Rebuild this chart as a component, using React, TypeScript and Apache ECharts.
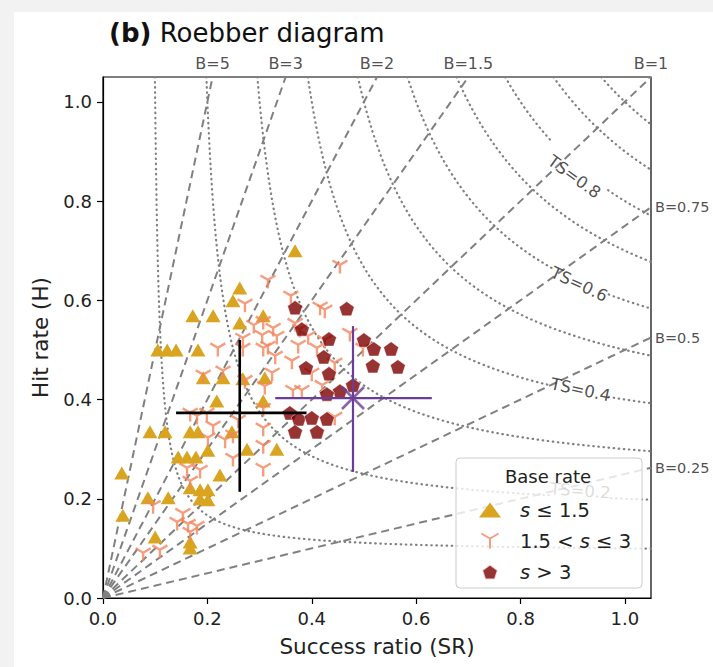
import React, { useEffect, useRef } from "react";
import * as echarts from "echarts";

// ---------- data ----------
const xTicks = [0, 0.2, 0.4, 0.6, 0.8, 1.0];
const yTicks = [0, 0.2, 0.4, 0.6, 0.8, 1.0];
const axisMax = 1.05;

const biasLevels = [0.25, 0.5, 0.75, 1, 1.5, 2, 3, 5];
const biasLabels = ["B=0.25", "B=0.5", "B=0.75", "B=1", "B=1.5", "B=2", "B=3", "B=5"];

const tsLevels = [0.1, 0.2, 0.3, 0.4, 0.5, 0.6, 0.7, 0.8, 0.9, 1.0, 1.1];
const tsLabelled = [0.2, 0.4, 0.6, 0.8];
const tsLabelText = ["TS=0.2", "TS=0.4", "TS=0.6", "TS=0.8"];
const tsLabelRotate = [-4, -12, -25, -36];
const tsLabelShift = [-6, -2, 2, 10];

const seriesNames = ["s ≤ 1.5", "1.5 < s ≤ 3", "s > 3"];

// s <= 1.5 (triangles)
const lowSR = [0.368, 0.262, 0.249, 0.172, 0.211, 0.307, 0.262, 0.105, 0.123, 0.140, 0.182, 0.192, 0.230, 0.268, 0.310, 0.218, 0.307, 0.090, 0.119, 0.167, 0.182, 0.247, 0.201, 0.276, 0.333, 0.144, 0.161, 0.178, 0.224, 0.036, 0.086, 0.125, 0.167, 0.186, 0.201, 0.186, 0.038, 0.100, 0.167, 0.167, 0.201];
const lowH = [0.700, 0.625, 0.599, 0.569, 0.569, 0.569, 0.554, 0.500, 0.500, 0.500, 0.500, 0.444, 0.444, 0.442, 0.444, 0.397, 0.397, 0.335, 0.335, 0.335, 0.335, 0.335, 0.298, 0.300, 0.300, 0.284, 0.284, 0.284, 0.248, 0.252, 0.202, 0.202, 0.222, 0.218, 0.218, 0.200, 0.167, 0.123, 0.113, 0.101, 0.198];

// 1.5 < s <= 3 (tri-down)
const midSR = [0.454, 0.316, 0.360, 0.416, 0.425, 0.272, 0.289, 0.307, 0.326, 0.333, 0.305, 0.368, 0.377, 0.393, 0.473, 0.498, 0.268, 0.268, 0.220, 0.307, 0.316, 0.410, 0.362, 0.444, 0.330, 0.324, 0.400, 0.272, 0.310, 0.420, 0.364, 0.381, 0.192, 0.230, 0.307, 0.167, 0.180, 0.199, 0.211, 0.259, 0.307, 0.444, 0.201, 0.249, 0.234, 0.307, 0.249, 0.307, 0.161, 0.186, 0.167, 0.096, 0.153, 0.142, 0.163, 0.180, 0.167, 0.077, 0.109, 0.425, 0.374];
const midH = [0.667, 0.637, 0.605, 0.583, 0.577, 0.589, 0.546, 0.554, 0.540, 0.524, 0.526, 0.550, 0.538, 0.524, 0.530, 0.500, 0.520, 0.500, 0.500, 0.500, 0.504, 0.500, 0.474, 0.470, 0.484, 0.450, 0.450, 0.435, 0.423, 0.425, 0.415, 0.415, 0.446, 0.454, 0.379, 0.369, 0.363, 0.369, 0.343, 0.355, 0.339, 0.361, 0.319, 0.325, 0.315, 0.304, 0.278, 0.258, 0.258, 0.254, 0.232, 0.183, 0.167, 0.149, 0.145, 0.141, 0.129, 0.087, 0.093, 0.516, 0.506];

// s > 3 (pentagons)
const highSR = [0.368, 0.467, 0.381, 0.433, 0.500, 0.519, 0.552, 0.423, 0.389, 0.433, 0.517, 0.565, 0.479, 0.454, 0.429, 0.358, 0.375, 0.400, 0.429, 0.368, 0.410];
const highH = [0.585, 0.583, 0.542, 0.522, 0.520, 0.502, 0.502, 0.486, 0.464, 0.452, 0.468, 0.466, 0.429, 0.417, 0.411, 0.373, 0.361, 0.363, 0.361, 0.335, 0.335];

// mean +- spread crosses
const blackCenter = [0.262, 0.373];
const blackSRRange = [0.14, 0.39];
const blackHRange = [0.214, 0.52];
const purpleCenter = [0.479, 0.403];
const purpleSRRange = [0.33, 0.63];
const purpleHRange = [0.254, 0.548];

// ---------- styles ----------
const FONT = "DejaVu Sans";
const GRAY = "#808080";
const C_LOW = "#d9a521";
const C_MID = "#f3845c";
const C_HIGH = "#7d0000";
const C_PURPLE = "#6a3d9a";

const PENTAGON = "path://M0,-10 L9.51,-3.09 L5.88,8.09 L-5.88,8.09 L-9.51,-3.09 Z";
const TRIDOWN = "path://M0,0 L0,10 M0,0 L-8.66,-5 M0,0 L8.66,-5";
const XMARK = "path://M-10,-10 L10,10 M-10,10 L10,-10";

function tsAt(ts: number, sr: number) {
  return 1 / (1 / ts + 1 - 1 / sr);
}

function buildOption() {
  const series: any[] = [];

  // TS contours (dotted)
  tsLevels.forEach((ts) => {
    const srMin = 1 / (1 / ts + 1 - 1 / axisMax);
    const pts: number[][] = [];
    const N = 220;
    for (let i = 0; i <= N; i++) {
      const sr = srMin * Math.pow(axisMax / srMin, i / N);
      pts.push([sr, Math.min(axisMax, tsAt(ts, sr))]);
    }
    const labelled = tsLabelled.some((l) => Math.abs(l - ts) < 1e-9);
    const segs = labelled
      ? [pts.filter((p) => p[0] < 0.862), pts.filter((p) => p[0] > 0.967)]
      : [pts];
    segs.forEach((seg) => {
      series.push({
        type: "line",
        data: seg,
        symbol: "none",
        silent: true,
        z: 1,
        lineStyle: { color: GRAY, width: 2.2, type: [0.5, 4.6], cap: "round" },
      });
    });
  });

  // Bias lines (dashed)
  biasLevels.forEach((b) => {
    const end = b >= 1 ? [axisMax / b, axisMax] : [axisMax, axisMax * b];
    series.push({
      type: "line",
      data: [[0, 0], end],
      symbol: "none",
      silent: true,
      z: 1,
      lineStyle: { color: GRAY, width: 2, type: [8, 5] },
    });
  });

  // Bias labels
  series.push({
    type: "scatter",
    symbolSize: 0,
    silent: true,
    clip: false,
    z: 3,
    data: biasLevels.map((b, i) => ({
      value: b >= 1 ? [axisMax / b, axisMax] : [axisMax, axisMax * b],
      label: {
        show: true,
        position: b >= 1 ? "top" : "right",
        distance: b >= 1 ? 6 : 4,
        formatter: biasLabels[i],
        fontSize: b >= 1 ? 16 : 14.5,
        color: "#222",
        fontFamily: FONT,
      },
    })),
  });

  // TS labels
  series.push({
    type: "scatter",
    symbolSize: 0,
    silent: true,
    clip: false,
    z: 3,
    data: tsLabelled.map((ts, i) => ({
      value: [0.914, tsAt(ts, 0.914)],
      label: {
        show: true,
        position: "inside",
        offset: [0, tsLabelShift[i]],
        formatter: tsLabelText[i],
        rotate: tsLabelRotate[i],
        fontSize: 16.5,
        color: "#222",
        fontFamily: FONT,
      },
    })),
  });

  // data series
  series.push({
    name: seriesNames[0],
    type: "scatter",
    symbol: "triangle",
    symbolSize: [15, 13],
    z: 4,
    itemStyle: { color: C_LOW, opacity: 1 },
    data: lowSR.map((v, i) => [v, lowH[i]]),
  });
  series.push({
    name: seriesNames[1],
    type: "scatter",
    symbol: TRIDOWN,
    symbolKeepAspect: true,
    symbolSize: 15,
    z: 5,
    itemStyle: { color: "rgba(0,0,0,0)", borderColor: C_MID, borderWidth: 2.4 },
    data: midSR.map((v, i) => [v, midH[i]]),
  });
  series.push({
    name: seriesNames[2],
    type: "scatter",
    symbol: PENTAGON,
    symbolKeepAspect: true,
    symbolSize: 15,
    z: 6,
    itemStyle: { color: C_HIGH, borderColor: "#ffffff", borderWidth: 0.6 },
    data: highSR.map((v, i) => [v, highH[i]]),
  });

  // crosses
  const cross = (c: number[], sr: number[], h: number[], color: string, w: number) => {
    series.push({
      type: "line",
      data: [[sr[0], c[1]], [sr[1], c[1]]],
      symbol: "none",
      silent: true,
      z: 7,
      lineStyle: { color, width: w },
    });
    series.push({
      type: "line",
      data: [[c[0], h[0]], [c[0], h[1]]],
      symbol: "none",
      silent: true,
      z: 7,
      lineStyle: { color, width: w },
    });
  };
  cross(blackCenter, blackSRRange, blackHRange, "#000000", 2.6);
  cross(purpleCenter, purpleSRRange, purpleHRange, C_PURPLE, 2.2);
  series.push({
    type: "scatter",
    symbol: XMARK,
    symbolSize: 22,
    silent: true,
    z: 8,
    itemStyle: { color: "rgba(0,0,0,0)", borderColor: C_PURPLE, borderWidth: 2.6 },
    data: [purpleCenter],
  });

  const axisCommon = {
    type: "value",
    min: 0,
    max: axisMax,
    splitLine: { show: false },
    axisLine: { show: true, onZero: false, lineStyle: { color: "#000", width: 1.2 } },
    axisTick: { show: true, inside: false, length: 6, lineStyle: { color: "#000", width: 1.2 } },
    nameLocation: "middle",
    nameTextStyle: { fontSize: 21.5, color: "#222", fontFamily: FONT },
  };

  return {
    animation: false,
    textStyle: { fontFamily: FONT },
    title: {
      text: "{b|(b)} Roebber diagram",
      left: 104,
      top: 15,
      textStyle: {
        fontSize: 26,
        fontWeight: "normal",
        color: "#111",
        fontFamily: FONT,
        rich: { b: { fontSize: 26, fontWeight: "bold", color: "#111", fontFamily: FONT } },
      },
    },
    grid: {
      left: 103,
      top: 77,
      right: 62,
      bottom: 69,
      show: true,
      borderColor: "#000",
      borderWidth: 1.2,
      backgroundColor: "#ffffff",
    },
    xAxis: {
      ...axisCommon,
      name: "Success ratio (SR)",
      nameGap: 37,
      axisTick: { ...axisCommon.axisTick, customValues: xTicks },
      axisLabel: {
        customValues: xTicks,
        formatter: (v: number) => v.toFixed(1),
        fontSize: 18,
        color: "#222",
        margin: 11,
        fontFamily: FONT,
      },
    },
    yAxis: {
      ...axisCommon,
      name: "Hit rate (H)",
      nameGap: 52,
      nameRotate: 90,
      axisTick: { ...axisCommon.axisTick, customValues: yTicks },
      axisLabel: {
        customValues: yTicks,
        formatter: (v: number) => v.toFixed(1),
        fontSize: 18,
        color: "#222",
        margin: 11,
        fontFamily: FONT,
      },
    },
    legend: {
      data: seriesNames,
      orient: "vertical",
      left: 474,
      top: 495,
      itemWidth: 22,
      itemHeight: 15,
      itemGap: 11,
      z: 60,
      formatter: (name: string) => name.replace("s", "{i|s}"),
      textStyle: {
        fontSize: 19.5,
        color: "#222",
        fontFamily: FONT,
        padding: [0, 0, 0, 14],
        rich: { i: { fontSize: 19.5, fontStyle: "italic", color: "#222", fontFamily: FONT } },
      },
    },
    graphic: [
      {
        type: "rect",
        silent: true,
        z: -100,
        shape: { x: 14, y: 12, width: 699, height: 655 },
        style: { fill: "#ffffff" },
      },
      {
        type: "rect",
        silent: true,
        z: 50,
        shape: { x: 456, y: 458, width: 186, height: 130, r: 4 },
        style: { fill: "rgba(255,255,255,0.8)", stroke: "#cccccc", lineWidth: 1 },
      },
      {
        type: "text",
        silent: true,
        z: 51,
        style: {
          text: "Base rate",
          x: 548,
          y: 476,
          textAlign: "center",
          textVerticalAlign: "middle",
          fontSize: 18,
          fontFamily: FONT,
          fill: "#222",
        },
      },
    ],
    series,
  };
}

export default function App() {
  const ref = useRef<HTMLDivElement>(null);
  useEffect(() => {
    if (!ref.current) return;
    const chart = echarts.init(ref.current, null, { renderer: "svg" });
    chart.setOption(buildOption() as any);
    return () => chart.dispose();
  }, []);
  return (
    <div
      ref={ref}
      style={{ position: "absolute", left: 0, top: 0, width: 713, height: 667, background: "#f2f2f2" }}
    />
  );
}
